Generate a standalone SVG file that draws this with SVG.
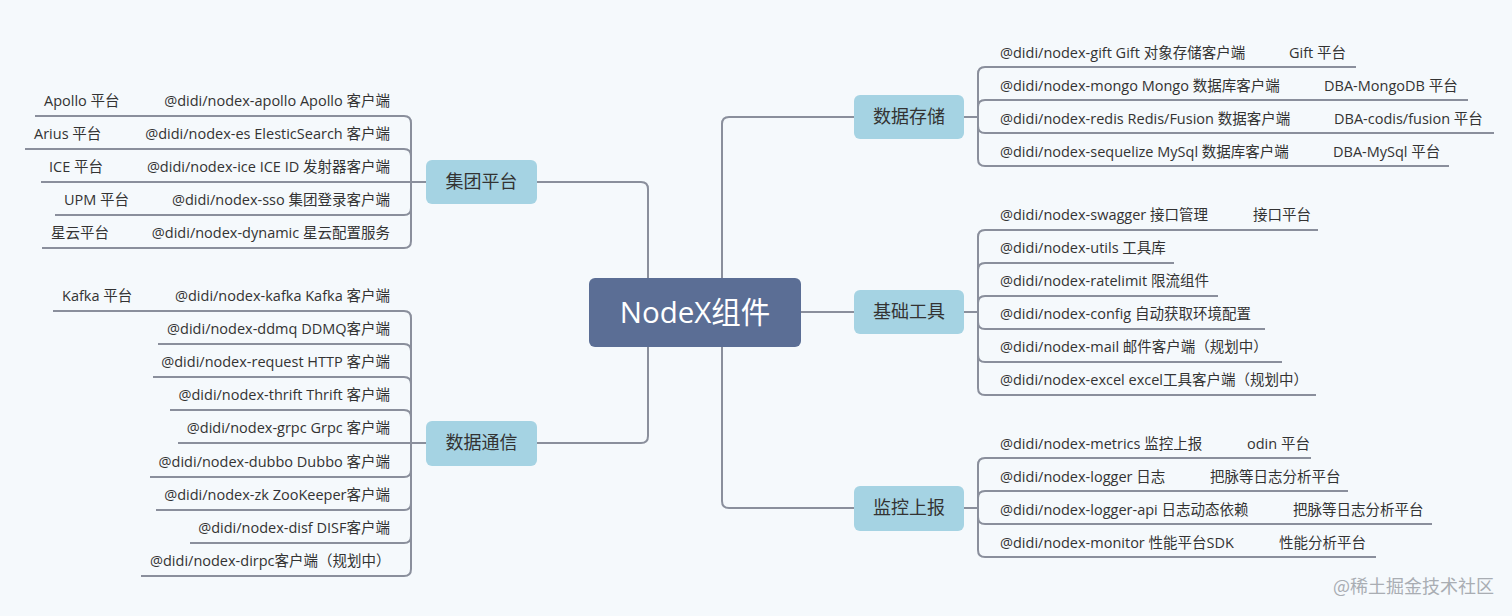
<svg xmlns="http://www.w3.org/2000/svg" width="1512" height="616" viewBox="0 0 1512 616">
<style>
.bg{fill:#f5f9fc}
.ln{fill:none;stroke:#8a8f9c;stroke-width:2}
.box{fill:#a5d3e3}
.root{fill:#5b6e95}
.t{font-family:"Open Sans","Noto Sans CJK SC",sans-serif;font-size:14.5px;fill:#333}
.e{text-anchor:end}
.b{font-family:"Open Sans","Noto Sans CJK SC",sans-serif;font-size:18px;fill:#333;text-anchor:middle}
.r{font-family:"Open Sans","Noto Sans CJK SC",sans-serif;font-size:29.5px;fill:#fff;text-anchor:middle}
.wm{font-family:"Noto Sans CJK SC",sans-serif;font-size:18px;fill:#a9adb3}
</style>
<rect class="bg" x="0" y="0" width="1512" height="616"/>
<g id="connectors">
<path class="ln" d="M648,312 V189 Q648,182 641,182 H537"/>
<path class="ln" d="M648,312 V436 Q648,443 641,443 H537"/>
<path class="ln" d="M722,312 V124 Q722,117 729,117 H854"/>
<path class="ln" d="M722,312 V501 Q722,508 729,508 H854"/>
<path class="ln" d="M801,312 H854"/>
<path class="ln" d="M426,182 H41"/>
<path class="ln" d="M411,182 V123 Q411,116 404,116 H35"/>
<path class="ln" d="M411,182 V156 Q411,149 404,149 H25"/>
<path class="ln" d="M411,182 V208 Q411,215 404,215 H55"/>
<path class="ln" d="M411,182 V241 Q411,248 404,248 H42"/>
<path class="ln" d="M426,443 H178"/>
<path class="ln" d="M411,443 V318 Q411,311 404,311 H53"/>
<path class="ln" d="M411,443 V351 Q411,344 404,344 H158"/>
<path class="ln" d="M411,443 V384 Q411,377 404,377 H153"/>
<path class="ln" d="M411,443 V417 Q411,410 404,410 H170"/>
<path class="ln" d="M411,443 V470 Q411,477 404,477 H150"/>
<path class="ln" d="M411,443 V503 Q411,510 404,510 H156"/>
<path class="ln" d="M411,443 V536 Q411,543 404,543 H190"/>
<path class="ln" d="M411,443 V569 Q411,576 404,576 H141"/>
<path class="ln" d="M964,117 H978"/>
<path class="ln" d="M978,117 V74 Q978,67 985,67 H1356"/>
<path class="ln" d="M978,117 V107 Q978,100 985,100 H1468"/>
<path class="ln" d="M978,117 V126 Q978,133 985,133 H1494"/>
<path class="ln" d="M978,117 V159 Q978,166 985,166 H1449"/>
<path class="ln" d="M964,312 H978"/>
<path class="ln" d="M978,312 V237 Q978,230 985,230 H1318"/>
<path class="ln" d="M978,312 V270 Q978,263 985,263 H1174"/>
<path class="ln" d="M978,312 V303 Q978,296 985,296 H1218"/>
<path class="ln" d="M978,312 V322 Q978,329 985,329 H1265"/>
<path class="ln" d="M978,312 V355 Q978,362 985,362 H1282"/>
<path class="ln" d="M978,312 V388 Q978,395 985,395 H1316"/>
<path class="ln" d="M964,508 H978"/>
<path class="ln" d="M978,508 V465 Q978,458 985,458 H1311"/>
<path class="ln" d="M978,508 V498 Q978,491 985,491 H1348"/>
<path class="ln" d="M978,508 V517 Q978,524 985,524 H1432"/>
<path class="ln" d="M978,508 V550 Q978,557 985,557 H1376"/>
</g>
<g id="root">
<rect class="root" x="589" y="278" width="212" height="69" rx="6"/>
<text class="r" x="695" y="323">NodeX组件</text>
</g>
<g id="jituan">
<rect class="box" x="426" y="160" width="111" height="44" rx="6"/>
<text class="b" x="481.5" y="188">集团平台</text>
<text class="t" x="44" y="106">Apollo 平台</text>
<text class="t e" x="390" y="106">@didi/nodex-apollo Apollo 客户端</text>
<text class="t" x="34" y="139">Arius 平台</text>
<text class="t e" x="390" y="139">@didi/nodex-es ElesticSearch 客户端</text>
<text class="t" x="49" y="172">ICE 平台</text>
<text class="t e" x="390" y="172">@didi/nodex-ice ICE ID 发射器客户端</text>
<text class="t" x="64" y="205">UPM 平台</text>
<text class="t e" x="390" y="205">@didi/nodex-sso 集团登录客户端</text>
<text class="t" x="51" y="238">星云平台</text>
<text class="t e" x="390" y="238">@didi/nodex-dynamic 星云配置服务</text>
</g>
<g id="tongxin">
<rect class="box" x="426" y="421" width="111" height="45" rx="6"/>
<text class="b" x="481.5" y="449">数据通信</text>
<text class="t" x="62" y="301">Kafka 平台</text>
<text class="t e" x="390" y="301">@didi/nodex-kafka Kafka 客户端</text>
<text class="t e" x="390" y="334">@didi/nodex-ddmq DDMQ客户端</text>
<text class="t e" x="390" y="367">@didi/nodex-request HTTP 客户端</text>
<text class="t e" x="390" y="400">@didi/nodex-thrift Thrift 客户端</text>
<text class="t e" x="390" y="433">@didi/nodex-grpc Grpc 客户端</text>
<text class="t e" x="390" y="467">@didi/nodex-dubbo Dubbo 客户端</text>
<text class="t e" x="390" y="500">@didi/nodex-zk ZooKeeper客户端</text>
<text class="t e" x="390" y="533">@didi/nodex-disf DISF客户端</text>
<text class="t" x="150" y="566">@didi/nodex-dirpc客户端（规划中）</text>
</g>
<g id="cunchu">
<rect class="box" x="854" y="95" width="110" height="44" rx="6"/>
<text class="b" x="909" y="123">数据存储</text>
<text class="t" x="1000" y="58">@didi/nodex-gift Gift 对象存储客户端</text>
<text class="t" x="1289" y="58">Gift 平台</text>
<text class="t" x="1000" y="91">@didi/nodex-mongo Mongo 数据库客户端</text>
<text class="t" x="1324" y="91">DBA-MongoDB 平台</text>
<text class="t" x="1000" y="124">@didi/nodex-redis Redis/Fusion 数据客户端</text>
<text class="t" x="1334" y="124">DBA-codis/fusion 平台</text>
<text class="t" x="1000" y="157">@didi/nodex-sequelize MySql 数据库客户端</text>
<text class="t" x="1333" y="157">DBA-MySql 平台</text>
</g>
<g id="gongju">
<rect class="box" x="854" y="290" width="110" height="44" rx="6"/>
<text class="b" x="909" y="318">基础工具</text>
<text class="t" x="1000" y="220">@didi/nodex-swagger 接口管理</text>
<text class="t" x="1253" y="220">接口平台</text>
<text class="t" x="1000" y="253">@didi/nodex-utils 工具库</text>
<text class="t" x="1000" y="286">@didi/nodex-ratelimit 限流组件</text>
<text class="t" x="1000" y="319">@didi/nodex-config 自动获取环境配置</text>
<text class="t" x="1000" y="352">@didi/nodex-mail 邮件客户端（规划中）</text>
<text class="t" x="1000" y="385">@didi/nodex-excel excel工具客户端（规划中）</text>
</g>
<g id="jiankong">
<rect class="box" x="854" y="486" width="110" height="45" rx="6"/>
<text class="b" x="909" y="514">监控上报</text>
<text class="t" x="1000" y="449">@didi/nodex-metrics 监控上报</text>
<text class="t" x="1247" y="449">odin 平台</text>
<text class="t" x="1000" y="482">@didi/nodex-logger 日志</text>
<text class="t" x="1210" y="482">把脉等日志分析平台</text>
<text class="t" x="1000" y="515">@didi/nodex-logger-api 日志动态依赖</text>
<text class="t" x="1293" y="515">把脉等日志分析平台</text>
<text class="t" x="1000" y="548">@didi/nodex-monitor 性能平台SDK</text>
<text class="t" x="1279" y="548">性能分析平台</text>
</g>
<text class="wm" x="1333" y="593">@稀土掘金技术社区</text>
</svg>
